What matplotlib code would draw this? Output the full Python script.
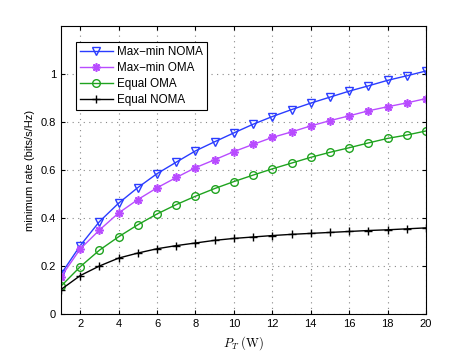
import numpy as np
import matplotlib.pyplot as plt

plt.rcParams['font.family'] = ['Liberation Sans', 'DejaVu Sans']
plt.rcParams['mathtext.fontset'] = 'cm'

# 数据：横轴为总功率，纵轴为最小速率
p_t = list(range(1, 21))
maxmin_noma = [0.166, 0.285, 0.385, 0.462, 0.527, 0.585, 0.633, 0.680, 0.718, 0.755,
               0.791, 0.823, 0.852, 0.879, 0.904, 0.929, 0.951, 0.974, 0.993, 1.013]
maxmin_oma = [0.155, 0.271, 0.350, 0.421, 0.477, 0.526, 0.569, 0.610, 0.643, 0.677,
              0.707, 0.736, 0.759, 0.784, 0.806, 0.826, 0.847, 0.864, 0.880, 0.898]
equal_oma = [0.116, 0.197, 0.266, 0.322, 0.372, 0.417, 0.456, 0.491, 0.523, 0.552,
             0.579, 0.605, 0.629, 0.653, 0.674, 0.693, 0.713, 0.732, 0.746, 0.763]
equal_noma = [0.102, 0.160, 0.200, 0.233, 0.254, 0.272, 0.285, 0.296, 0.307, 0.315,
              0.321, 0.327, 0.332, 0.336, 0.340, 0.344, 0.348, 0.351, 0.355, 0.359]

fig = plt.figure(figsize=(4.71, 3.53), dpi=100)
ax = fig.add_axes([0.1295, 0.1105, 0.775, 0.8155])

ax.plot(p_t, maxmin_noma, color='#2a3cff', marker='v', markerfacecolor='none',
        markersize=6, lw=1, label='Max\u2212min NOMA')
ax.plot(p_t, maxmin_oma, color='#b84cff', marker=(8, 2, 0), markersize=6,
        markeredgewidth=1.2, lw=1, label='Max\u2212min OMA')
ax.plot(p_t, equal_oma, color='#1fa31f', marker='o', markerfacecolor='none',
        markersize=5.5, lw=1, label='Equal OMA')
ax.plot(p_t, equal_noma, color='black', marker='+', markersize=6, lw=1,
        label='Equal NOMA')

ax.set_xlim(1, 20)
ax.set_ylim(0, 1.2)
ax.set_xticks(range(2, 21, 2))
ax.set_yticks([0, 0.2, 0.4, 0.6, 0.8, 1])
ax.set_yticklabels(['0', '0.2', '0.4', '0.6', '0.8', '1'])
ax.tick_params(direction='in', top=True, right=True, labelsize=8, length=3)
ax.grid(True, linestyle=(0, (1, 4)), color='#888888', lw=0.8)
for s in ax.spines.values():
    s.set_linewidth(0.8)

ax.set_xlabel(r'$P_T\ \mathrm{(W)}$', fontsize=9)
ax.set_ylabel('minimum rate (bits/s/Hz)', fontsize=8)

leg = ax.legend(loc='upper left', bbox_to_anchor=(0.041, 0.945), borderaxespad=0,
                fontsize=8.4, fancybox=False, edgecolor='black', framealpha=1,
                borderpad=0.35, labelspacing=0.35, handlelength=2.8,
                handletextpad=0.4)
leg.get_frame().set_linewidth(0.8)

fig.savefig('out.png', dpi=100)
